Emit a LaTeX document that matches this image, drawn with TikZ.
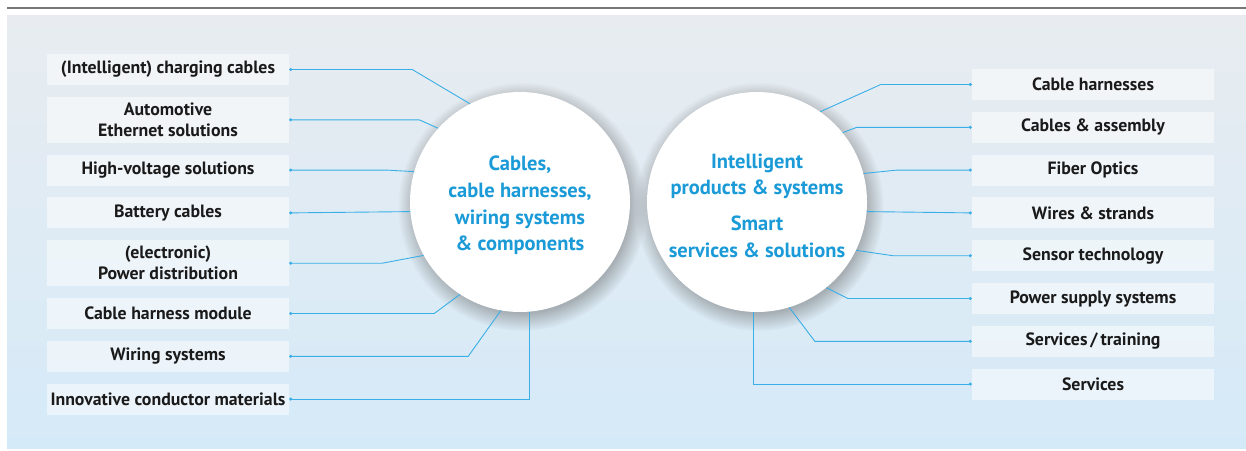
\documentclass[tikz,border=0pt]{standalone}
\usepackage{fontspec}
\setmainfont{PT Sans}
\usetikzlibrary{shapes.geometric, arrows.meta, positioning, shadows, calc}

\definecolor{hubblue}{HTML}{1A9AD7}
\definecolor{lineblue}{HTML}{3AAEE6}
\definecolor{paneltop}{HTML}{E8ECF0}
\definecolor{panelbottom}{HTML}{D5EAF8}
\definecolor{rulegray}{HTML}{777777}
\definecolor{itemtext}{HTML}{1A1A1A}

\begin{document}
\begin{tikzpicture}[x=1pt, y=-1pt]

        % Define styles for the boxes and the two hubs
        \tikzstyle{item} = [rectangle, minimum width=242pt, minimum height=31pt, inner sep=0pt, text centered, align=center, fill=white, fill opacity=0.5, text opacity=1, text=itemtext, font=\fontsize{17.8}{21}\selectfont\bfseries]
        \tikzstyle{tallitem} = [item, minimum height=46pt]
        \tikzstyle{hub} = [circle, minimum size=220pt, inner sep=0pt, fill=white, circular drop shadow={shadow scale=1.13, shadow xshift=2pt, shadow yshift=-4pt, opacity=0.45, fill=black!60}]
        \tikzstyle{hubtext} = [align=center, yshift=-3.5pt, text=hubblue, font=\fontsize{20.5}{26.7}\selectfont\bfseries]

        % Define connector style
        \tikzstyle{link} = [draw=lineblue, line width=0.9pt, arrows={Circle[length=3pt]}-]

        \useasboundingbox (0,0) rectangle (1246,450);

        % Panel and rule
        \fill [top color=paneltop, bottom color=panelbottom] (7,15) rectangle (1246,448);
        \draw [rulegray, line width=1.8pt] (7,8) -- (1246,8);

        % Left column
        \node (charging) [item] at (168,69.5) {(Intelligent) charging cables};
        \node (ethernet) [tallitem, below=11.4pt of charging] {Automotive\\Ethernet solutions};
        \node (hvolt) [item, below=11.4pt of ethernet] {High-voltage solutions};
        \node (battery) [item, below=11.4pt of hvolt] {Battery cables};
        \node (powerdist) [tallitem, below=11.4pt of battery] {(electronic)\\Power distribution};
        \node (module) [item, below=11.4pt of powerdist] {Cable harness module};
        \node (wiring) [item, below=11.4pt of module] {Wiring systems};
        \node (conductor) [item, below=11.4pt of wiring] {Innovative conductor materials};

        % Right column
        \node (harnesses) [item] at (1093,84.5) {Cable harnesses};
        \node (assembly) [item, below=11.4pt of harnesses] {Cables \& assembly};
        \node (fiber) [item, below=11.4pt of assembly] {Fiber Optics};
        \node (wires) [item, below=11.4pt of fiber] {Wires \& strands};
        \node (sensor) [item, below=11.4pt of wires] {Sensor technology};
        \node (supply) [item, below=11.4pt of sensor] {Power supply systems};
        \node (training) [item, below=11.4pt of supply] {Services\,/\,training};
        \node (services) [item, below=11.4pt of training] {Services};

        % Hubs
        \node (cables) [hub, label={[hubtext]center:{Cables,\\cable harnesses,\\wiring systems\\\& components}}] at (520,202) {};
        \node (smart) [hub, label={[hubtext]center:{Intelligent\\products \& systems\\[9pt]Smart\\services \& solutions}}] at (757,202) {};

        % Connectors on the left
        \draw [link] (charging.east) -- ++(123,0) -- (cables.117);
        \draw [link] (ethernet.east) -- ++(130,0) -- (cables.138);
        \draw [link] (hvolt.east) -- ++(98,0) -- (cables.164);
        \draw [link] (battery.east) -- (cables.185);
        \draw [link] (powerdist.east) -- ++(93,0) -- (cables.209);
        \draw [link] (module.east) -- ++(145,0) -- (cables.237);
        \draw [link] (wiring.east) -- ++(179,0) -- (cables.260);
        \draw [link] (conductor.east) -| (cables.275);

        % Connectors on the right
        \draw [link] (harnesses.west) -- ++(-91,0) -- (smart.55);
        \draw [link] (assembly.west) -- ++(-115,0) -- (smart.39);
        \draw [link] (fiber.west) -- ++(-75,0) -- (smart.15);
        \draw [link] (wires.west) -- (smart.355);
        \draw [link] (sensor.west) -- ++(-79,0) -- (smart.334);
        \draw [link] (supply.west) -- ++(-124,0) -- (smart.309);
        \draw [link] (training.west) -- ++(-157,0) -- (smart.287);
        \draw [link] (services.west) -| (smart.268);

\end{tikzpicture}
\end{document}
